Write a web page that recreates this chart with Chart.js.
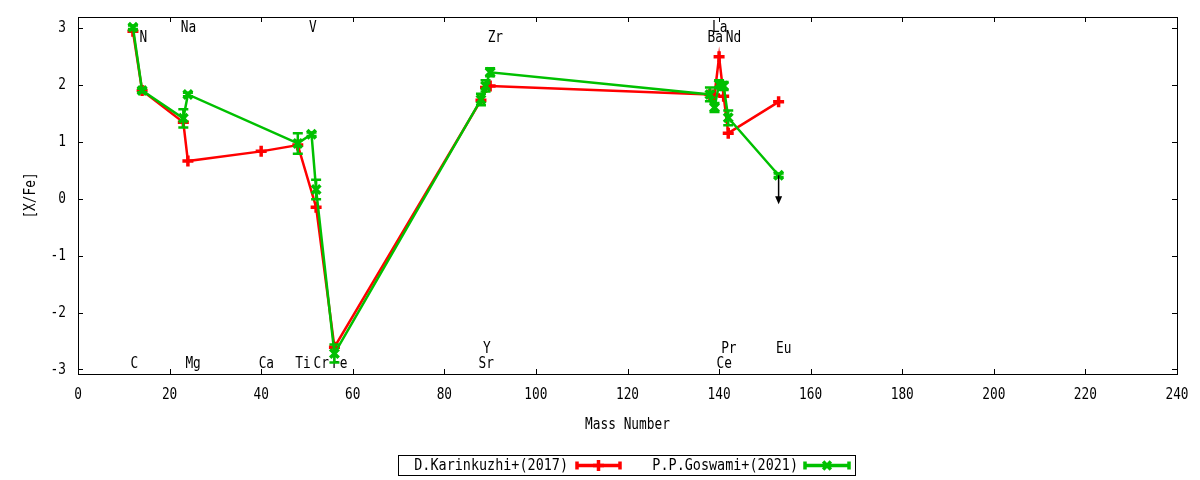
<!DOCTYPE html>
<html>
<head>
<meta charset="utf-8">
<script src="https://cdn.jsdelivr.net/npm/chart.js@4.4.1/dist/chart.umd.min.js"></script>
<style>
  html, body { margin: 0; padding: 0; background: #fff; }
</style>
</head>
<body>
<canvas id="abundChart" width="1200" height="480"></canvas>
<script>
// axis ticks
const xTicks = [0, 20, 40, 60, 80, 100, 120, 140, 160, 180, 200, 220, 240];
const yTicks = [-3, -2, -1, 0, 1, 2, 3];

// D.Karinkuzhi+(2017)
const karMass = [12, 14, 23, 24, 40, 48, 52, 56, 88, 89, 90, 138, 139, 140, 141, 142, 153];
const karXFe  = [2.94, 1.90, 1.34, 0.66, 0.83, 0.94, -0.15, -2.61, 1.73, 1.95, 1.98, 1.83, 1.82, 2.49, 1.80, 1.15, 1.70];
const karErr  = [0, 0, 0, 0, 0, 0, 0, 0, 0, 0, 0, 0, 0, 0, 0, 0, 0];

// P.P.Goswami+(2021)
const gosMass = [12, 14, 23, 24, 48, 51, 52, 56, 88, 89, 90, 138, 139, 140, 141, 142, 153];
const gosXFe  = [3.01, 1.90, 1.41, 1.83, 0.97, 1.13, 0.16, -2.72, 1.74, 1.98, 2.22, 1.83, 1.60, 2.01, 1.98, 1.42, 0.41];
const gosErr  = [0.03, 0.03, 0.16, 0.03, 0.18, 0.03, 0.17, 0.16, 0.10, 0.10, 0.07, 0.12, 0.08, 0.07, 0.07, 0.13, 0.03];

// Eu upper limit arrow
const arrowMass = [153];
const arrowFrom = [0.41];
const arrowTo   = [-0.10];

// element labels
const elemNames = ['C', 'N', 'Na', 'Mg', 'Ca', 'Ti', 'V', 'Cr', 'Fe', 'Sr', 'Y', 'Zr', 'Ba', 'La', 'Ce', 'Pr', 'Nd', 'Eu'];
const elemMass  = [12, 14, 23, 24, 40, 48, 51, 52, 56, 88, 89, 90, 138, 139, 140, 141, 142, 153];
const elemLevel = [-2.9, 2.83, 3.0, -2.9, -2.9, -2.9, 3.0, -2.9, -2.9, -2.9, -2.63, 2.83, 2.83, 3.0, -2.9, -2.63, 2.83, -2.63];

const FONT = '16px "DejaVu Sans Mono"';
const SQUEEZE = 0.8; // the original png looks squeezed sideways

// draw text narrowed horizontally, align = left | center | right
function txt(ctx, s, x, y, align, rot, sq) {
  ctx.save();
  ctx.translate(x, y);
  if (rot) ctx.rotate(rot);
  ctx.scale(sq || SQUEEZE, 1);
  ctx.font = FONT;
  ctx.fillStyle = '#000';
  ctx.textAlign = align;
  ctx.textBaseline = 'middle';
  ctx.fillText(s, 0, 0);
  ctx.restore();
}

// labels, ticks, error bars, arrow, key -- gnuplot look
const gnuplotBits = {
  id: 'gnuplotBits',
  beforeDatasetsDraw(chart) {
    const { ctx, chartArea: a, scales: { x, y } } = chart;
    elemNames.forEach((n, i) => {
      txt(ctx, n, x.getPixelForValue(elemMass[i]) - 2.5, y.getPixelForValue(elemLevel[i]), 'left');
    });
    xTicks.forEach(v => txt(ctx, String(v), x.getPixelForValue(v), a.bottom + 21, 'center'));
    yTicks.forEach(v => txt(ctx, String(v), a.left - 12, y.getPixelForValue(v), 'right'));
    txt(ctx, 'Mass Number', (a.left + a.right) / 2, 425, 'center');
    txt(ctx, '[X/Fe]', 31, (a.top + a.bottom) / 2, 'center', -Math.PI / 2);
  },
  afterDatasetsDraw(chart) {
    const { ctx, chartArea: a, scales: { x, y } } = chart;
    ctx.save();

    // error bars
    chart.data.datasets.forEach((ds, i) => {
      const meta = chart.getDatasetMeta(i);
      ctx.strokeStyle = ds.borderColor;
      ctx.lineWidth = 2.5;
      ds.errors.forEach((e, j) => {
        if (!e) return;
        const px = meta.data[j].x;
        const y1 = y.getPixelForValue(ds.data[j].y + e);
        const y2 = y.getPixelForValue(ds.data[j].y - e);
        ctx.beginPath();
        ctx.moveTo(px, y1); ctx.lineTo(px, y2);
        ctx.moveTo(px - 5, y1); ctx.lineTo(px + 5, y1);
        ctx.moveTo(px - 5, y2); ctx.lineTo(px + 5, y2);
        ctx.stroke();
      });
    });

    // upper limit arrow
    ctx.strokeStyle = '#000';
    ctx.fillStyle = '#000';
    ctx.lineWidth = 1.5;
    arrowMass.forEach((m, i) => {
      const px = x.getPixelForValue(m);
      const p1 = y.getPixelForValue(arrowFrom[i]);
      const p2 = y.getPixelForValue(arrowTo[i]);
      ctx.beginPath();
      ctx.moveTo(px, p1); ctx.lineTo(px, p2 - 6);
      ctx.stroke();
      ctx.beginPath();
      ctx.moveTo(px, p2); ctx.lineTo(px - 3.5, p2 - 8); ctx.lineTo(px + 3.5, p2 - 8);
      ctx.closePath();
      ctx.fill();
    });

    // border + mirrored inward ticks
    ctx.strokeStyle = '#000';
    ctx.lineWidth = 1;
    ctx.strokeRect(a.left + 0.5, a.top + 0.5, a.right - a.left, a.bottom - a.top);
    ctx.beginPath();
    xTicks.forEach(v => {
      const px = Math.round(x.getPixelForValue(v)) + 0.5;
      ctx.moveTo(px, a.bottom); ctx.lineTo(px, a.bottom - 5);
      ctx.moveTo(px, a.top); ctx.lineTo(px, a.top + 5);
    });
    yTicks.forEach(v => {
      const py = Math.round(y.getPixelForValue(v)) + 0.5;
      ctx.moveTo(a.left, py); ctx.lineTo(a.left + 5, py);
      ctx.moveTo(a.right, py); ctx.lineTo(a.right - 5, py);
    });
    ctx.stroke();
    ctx.restore();
  },
  afterDraw(chart) {
    const ctx = chart.ctx;
    ctx.save();
    ctx.strokeStyle = '#000';
    ctx.lineWidth = 1;
    ctx.strokeRect(398.5, 455.5, 457, 20);
    const keys = [
      { ds: chart.data.datasets[1], textX: 568, x1: 577, x2: 620 },
      { ds: chart.data.datasets[0], textX: 798, x1: 805, x2: 849 }
    ];
    const ky = 465.5;
    keys.forEach(k => {
      txt(ctx, k.ds.label, k.textX, ky, 'right', 0, 0.84);
      ctx.strokeStyle = k.ds.borderColor;
      ctx.lineWidth = 3.5;
      ctx.beginPath();
      ctx.moveTo(k.x1, ky); ctx.lineTo(k.x2, ky);
      ctx.moveTo(k.x1, ky - 4); ctx.lineTo(k.x1, ky + 4);
      ctx.moveTo(k.x2, ky - 4); ctx.lineTo(k.x2, ky + 4);
      ctx.stroke();
      Chart.helpers.drawPoint(ctx, {
        pointStyle: k.ds.pointStyle, radius: 5.5, borderWidth: 3.5, rotation: 0
      }, (k.x1 + k.x2) / 2, ky);
    });
    ctx.restore();
  }
};

new Chart(document.getElementById('abundChart'), {
  type: 'line',
  data: {
    datasets: [
      {
        label: 'P.P.Goswami+(2021)',
        data: gosMass.map((m, i) => ({ x: m, y: gosXFe[i] })),
        errors: gosErr,
        borderColor: '#00c000',
        backgroundColor: '#00c000',
        borderWidth: 2.5,
        pointStyle: 'crossRot',
        pointRadius: 6,
        pointBorderWidth: 3.5,
        tension: 0,
        order: 0
      },
      {
        label: 'D.Karinkuzhi+(2017)',
        data: karMass.map((m, i) => ({ x: m, y: karXFe[i] })),
        errors: karErr,
        borderColor: '#ff0000',
        backgroundColor: '#ff0000',
        borderWidth: 2.5,
        pointStyle: 'cross',
        pointRadius: 5.5,
        pointBorderWidth: 3.5,
        tension: 0,
        order: 1
      }
    ]
  },
  options: {
    responsive: false,
    animation: false,
    layout: { padding: { left: 0, top: 17, right: 23, bottom: 0 } },
    plugins: {
      legend: { display: false },
      tooltip: { enabled: false }
    },
    scales: {
      x: {
        type: 'linear',
        min: 0,
        max: 240,
        afterBuildTicks: ax => { ax.ticks = xTicks.map(v => ({ value: v })); },
        afterFit: ax => { ax.height = 106; },
        grid: { display: false, drawTicks: false },
        border: { display: false },
        ticks: { display: false }
      },
      y: {
        min: -3.08,
        max: 3.19,
        afterBuildTicks: ax => { ax.ticks = yTicks.map(v => ({ value: v })); },
        afterFit: ax => { ax.width = 78; },
        grid: { display: false, drawTicks: false },
        border: { display: false },
        ticks: { display: false }
      }
    }
  },
  plugins: [gnuplotBits]
});
</script>
</body>
</html>
